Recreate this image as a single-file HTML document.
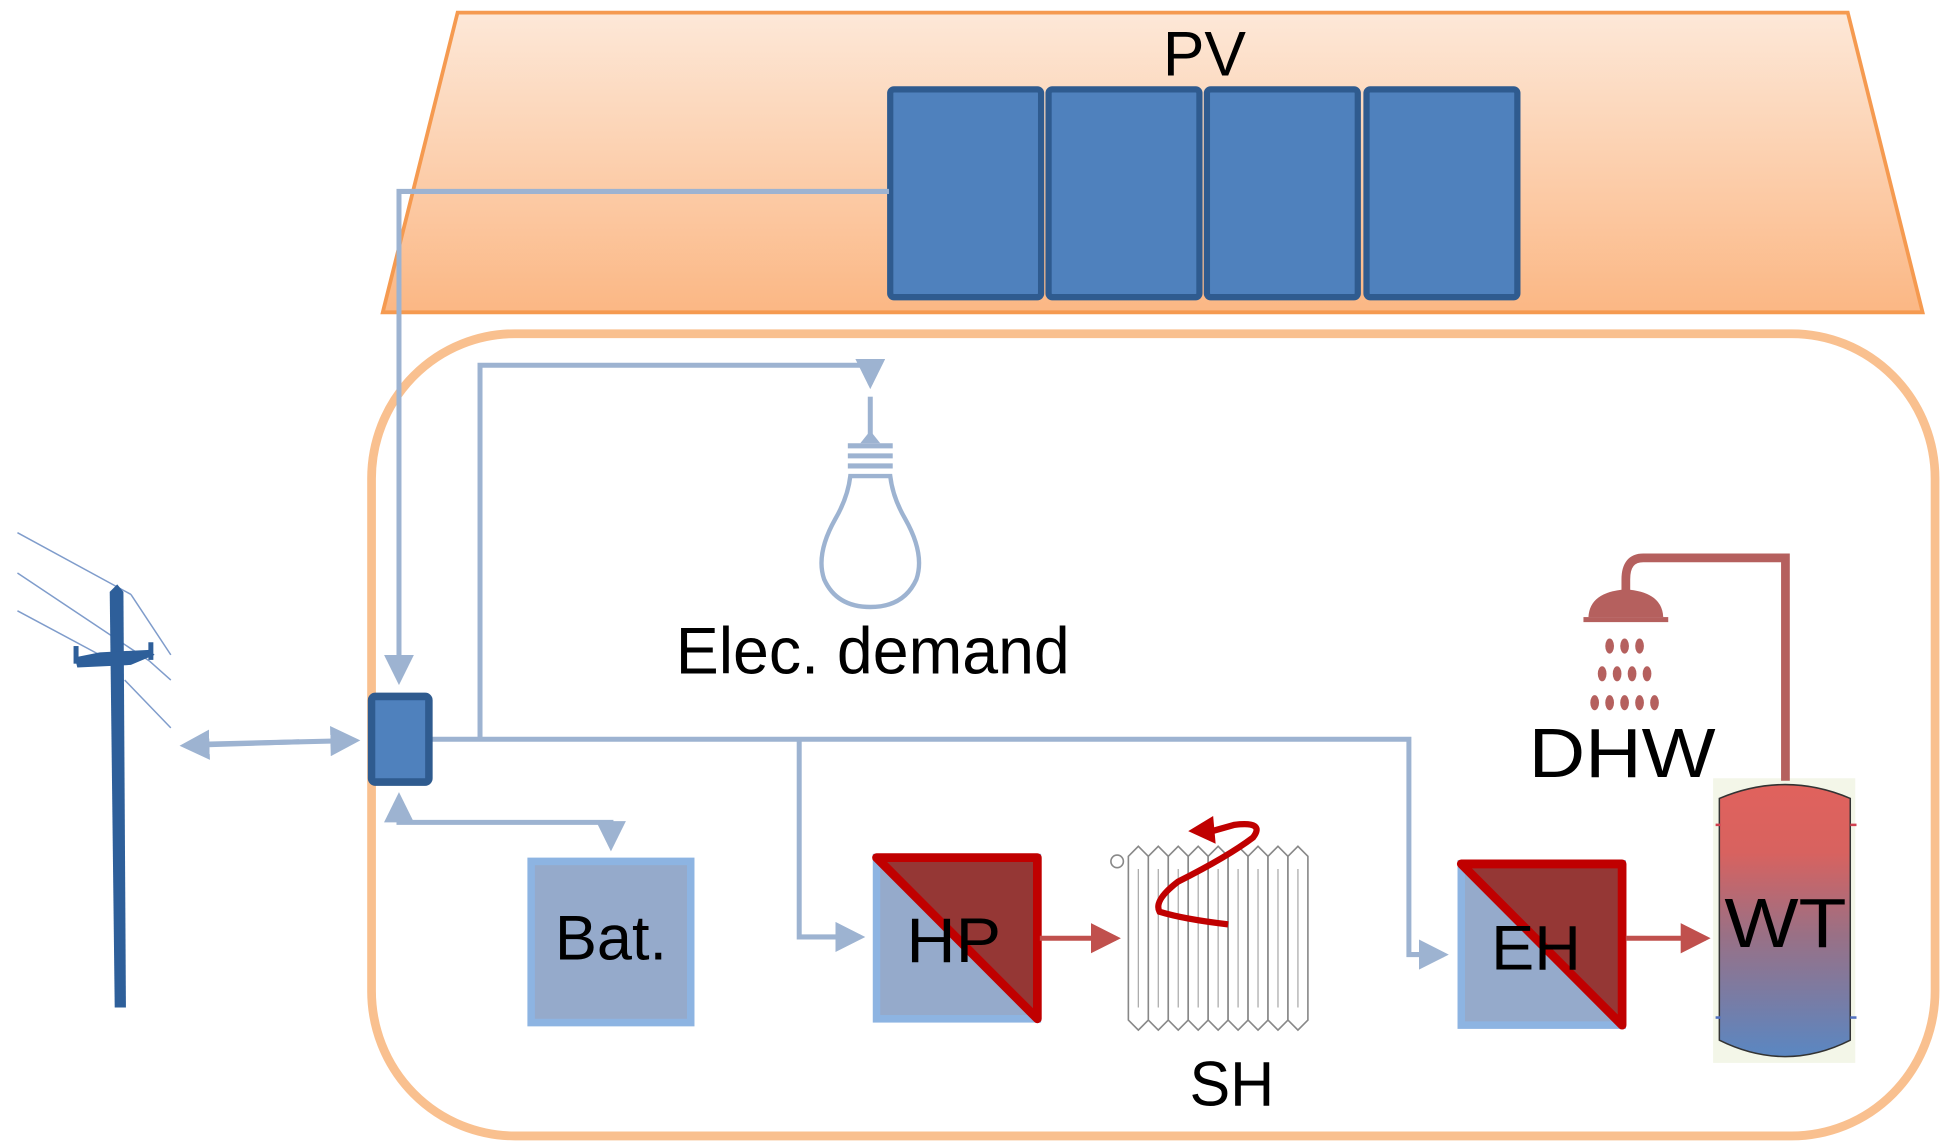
<!DOCTYPE html>
<html><head><meta charset="utf-8"><style>
html,body{margin:0;padding:0;background:#fff;}
svg{display:block;}
text{font-family:"Liberation Sans",sans-serif;fill:#000;}
</style></head><body>
<svg width="1955" height="1146" viewBox="0 0 1568 910" preserveAspectRatio="none" xmlns="http://www.w3.org/2000/svg">
<defs>
<linearGradient id="roof" x1="0" y1="0" x2="0" y2="1"><stop offset="0" stop-color="#fde8d8"/><stop offset="1" stop-color="#fbb784"/></linearGradient>
<linearGradient id="tank" x1="0" y1="0" x2="0" y2="1"><stop offset="0" stop-color="#e0625d"/><stop offset="0.25" stop-color="#d8625f"/><stop offset="0.55" stop-color="#9a7085"/><stop offset="1" stop-color="#5a87c2"/></linearGradient>
<marker id="ab" markerWidth="6" markerHeight="6" refX="5" refY="3" orient="auto" markerUnits="strokeWidth"><path d="M0,0 L6,3 L0,6 z" fill="#9db3d1"/></marker>
<marker id="ar" markerWidth="6" markerHeight="6" refX="5" refY="3" orient="auto" markerUnits="strokeWidth"><path d="M0,0 L6,3 L0,6 z" fill="#c0504d"/></marker>
</defs>
<!-- roof -->
<polygon points="367,10 1482,10 1542,248 307,248" fill="url(#roof)" stroke="#f59a50" stroke-width="3"/>
<text x="966" y="60" font-size="50" text-anchor="middle">PV</text>
<g fill="#4f81bd" stroke="#2f5b8f" stroke-width="5">
<rect x="714" y="71" width="121" height="165" rx="3"/>
<rect x="841" y="71" width="121" height="165" rx="3"/>
<rect x="968" y="71" width="121" height="165" rx="3"/>
<rect x="1096" y="71" width="121" height="165" rx="3"/>
</g>
<!-- house -->
<rect x="298" y="265" width="1254" height="637" rx="115" fill="none" stroke="#f9c08f" stroke-width="7"/>
<!-- blue connectors -->
<g fill="none" stroke="#9db3d1" stroke-width="4">
<polyline points="713,152 320,152 320,540" marker-end="url(#ab)"/>
<polyline points="344,587 1130,587 1130,758 1158,758" marker-end="url(#ab)"/>
<polyline points="385,587 385,290 698,290 698,305" marker-end="url(#ab)"/>
<polyline points="641,587 641,744 690,744" marker-end="url(#ab)"/>
<polyline points="320,634 320,653 490,653 490,672" marker-end="url(#ab)"/>
<line x1="320" y1="640" x2="320" y2="633" marker-end="url(#ab)"/>
<line x1="160" y1="591" x2="285" y2="588" marker-end="url(#ab)"/>
<line x1="240" y1="589" x2="148" y2="592" marker-end="url(#ab)"/>
</g>
<!-- controller -->
<rect x="298" y="553" width="46" height="68" rx="3" fill="#4f81bd" stroke="#2f5b8f" stroke-width="6"/>
<!-- pole -->
<g stroke="#7f9ccb" stroke-width="1.2" fill="none">
<line x1="14" y1="423" x2="105" y2="472"/>
<line x1="14" y1="455" x2="120" y2="525"/>
<line x1="14" y1="485" x2="80" y2="520"/>
<line x1="105" y1="472" x2="137" y2="520"/>
<line x1="120" y1="525" x2="137" y2="540"/>
<line x1="100" y1="540" x2="137" y2="578"/>
</g>
<polygon points="88,470 94,464 99,470 101,800 92,800" fill="#2e5f9a"/>
<polygon points="60,522 80,518 120,516 124,520 105,528 62,530" fill="#2e5f9a"/>
<rect x="59" y="513" width="4" height="14" fill="#2e5f9a"/>
<rect x="119" y="510" width="4" height="14" fill="#2e5f9a"/>
<!-- bulb -->
<g fill="none" stroke="#9db3d1" stroke-width="4">
<line x1="698" y1="315" x2="698" y2="345"/>
<line x1="680" y1="354" x2="716" y2="354"/>
<line x1="680" y1="362" x2="716" y2="362"/>
<line x1="680" y1="370" x2="716" y2="370"/>
<path d="M682,378 L714,378 Q716,395 726,412 Q742,440 735,460 Q725,482 698,482 Q671,482 661,460 Q654,440 670,412 Q680,395 682,378 z" stroke-width="3.5"/>
</g>
<polygon points="690,352 698,342 706,352" fill="#9db3d1"/>
<text x="700" y="535" font-size="52" text-anchor="middle" textLength="316" lengthAdjust="spacingAndGlyphs">Elec. demand</text>
<!-- battery -->
<rect x="426" y="684" width="128" height="128" fill="#95aacb" stroke="#8db4e2" stroke-width="6"/>
<text x="490" y="762" font-size="50" text-anchor="middle" textLength="90" lengthAdjust="spacingAndGlyphs">Bat.</text>
<!-- HP -->
<rect x="703" y="681" width="129" height="128" fill="#95aacb" stroke="#8db4e2" stroke-width="6"/>
<polygon points="703,681 832,681 832,809" fill="#953735" stroke="#c00000" stroke-width="7" stroke-linejoin="round"/>
<text x="765" y="764" font-size="50" text-anchor="middle" textLength="76" lengthAdjust="spacingAndGlyphs">HP</text>
<line x1="834" y1="745" x2="895" y2="745" stroke="#c0504d" stroke-width="4" marker-end="url(#ar)"/>
<!-- radiator -->
<g fill="#fff" stroke="#888" stroke-width="1.3">
<rect x="905" y="672" width="150" height="148" fill="#fff" stroke="none"/>
<path d="M905,680 l8,-8 l8,8 v130 l-8,8 l-8,-8 z"/>
<path d="M921,680 l8,-8 l8,8 v130 l-8,8 l-8,-8 z"/>
<path d="M937,680 l8,-8 l8,8 v130 l-8,8 l-8,-8 z"/>
<path d="M953,680 l8,-8 l8,8 v130 l-8,8 l-8,-8 z"/>
<path d="M969,680 l8,-8 l8,8 v130 l-8,8 l-8,-8 z"/>
<path d="M985,680 l8,-8 l8,8 v130 l-8,8 l-8,-8 z"/>
<path d="M1001,680 l8,-8 l8,8 v130 l-8,8 l-8,-8 z"/>
<path d="M1017,680 l8,-8 l8,8 v130 l-8,8 l-8,-8 z"/>
<path d="M1033,680 l8,-8 l8,8 v130 l-8,8 l-8,-8 z"/>
</g>
<g stroke="#aaa" stroke-width="1"><line x1="913" y1="690" x2="913" y2="800"/><line x1="929" y1="690" x2="929" y2="800"/><line x1="945" y1="690" x2="945" y2="800"/><line x1="961" y1="690" x2="961" y2="800"/><line x1="977" y1="690" x2="977" y2="800"/><line x1="993" y1="690" x2="993" y2="800"/><line x1="1009" y1="690" x2="1009" y2="800"/><line x1="1025" y1="690" x2="1025" y2="800"/><line x1="1041" y1="690" x2="1041" y2="800"/></g>
<circle cx="896" cy="684" r="5" fill="none" stroke="#888" stroke-width="1.3"/>
<path d="M985,734 Q950,730 930,724 Q925,715 945,700 Q985,680 1005,665 Q1015,652 990,655 L972,660" fill="none" stroke="#c00000" stroke-width="5"/>
<polygon points="953,660 973,648 975,670" fill="#c00000"/>
<text x="988" y="878" font-size="50" text-anchor="middle" textLength="68" lengthAdjust="spacingAndGlyphs">SH</text>
<!-- EH -->
<rect x="1172" y="686" width="129" height="128" fill="#95aacb" stroke="#8db4e2" stroke-width="6"/>
<polygon points="1172,686 1301,686 1301,814" fill="#953735" stroke="#c00000" stroke-width="7" stroke-linejoin="round"/>
<text x="1232" y="770" font-size="50" text-anchor="middle" textLength="72" lengthAdjust="spacingAndGlyphs">EH</text>
<line x1="1304" y1="745" x2="1368" y2="745" stroke="#c0504d" stroke-width="4" marker-end="url(#ar)"/>
<!-- tank -->
<rect x="1374" y="618" width="114" height="226" fill="#f3f6e8"/>
<path d="M1379,634 Q1432,612 1484,634 L1484,826 Q1432,852 1379,826 z" fill="url(#tank)" stroke="#333" stroke-width="1.2"/>
<g stroke-width="2"><line x1="1376" y1="655" x2="1380" y2="655" stroke="#d04050"/><line x1="1484" y1="655" x2="1489" y2="655" stroke="#d04050"/><line x1="1376" y1="808" x2="1380" y2="808" stroke="#5070c0"/><line x1="1484" y1="808" x2="1489" y2="808" stroke="#5070c0"/></g>
<text x="1432" y="752" font-size="55" text-anchor="middle" textLength="98" lengthAdjust="spacingAndGlyphs">WT</text>
<!-- shower -->
<path d="M1432,620 L1432,443 L1318,443 Q1304,443 1304,460 L1304,475" fill="none" stroke="#b5605e" stroke-width="7"/>
<path d="M1274,490 Q1275,470 1304,468 Q1333,470 1334,490 z" fill="#b5605e"/>
<rect x="1270" y="490" width="68" height="4" fill="#b5605e"/>
<g fill="#b5605e">
<ellipse cx="1291" cy="513" rx="3.5" ry="6"/><ellipse cx="1303" cy="513" rx="3.5" ry="6"/><ellipse cx="1315" cy="513" rx="3.5" ry="6"/>
<ellipse cx="1285" cy="535" rx="3.5" ry="6"/><ellipse cx="1297" cy="535" rx="3.5" ry="6"/><ellipse cx="1309" cy="535" rx="3.5" ry="6"/><ellipse cx="1321" cy="535" rx="3.5" ry="6"/>
<ellipse cx="1279" cy="558" rx="3.5" ry="6"/><ellipse cx="1291" cy="558" rx="3.5" ry="6"/><ellipse cx="1303" cy="558" rx="3.5" ry="6"/><ellipse cx="1315" cy="558" rx="3.5" ry="6"/><ellipse cx="1327" cy="558" rx="3.5" ry="6"/>
</g>
<text x="1301" y="617" font-size="55" text-anchor="middle" textLength="150" lengthAdjust="spacingAndGlyphs">DHW</text>
</svg>
</body></html>
